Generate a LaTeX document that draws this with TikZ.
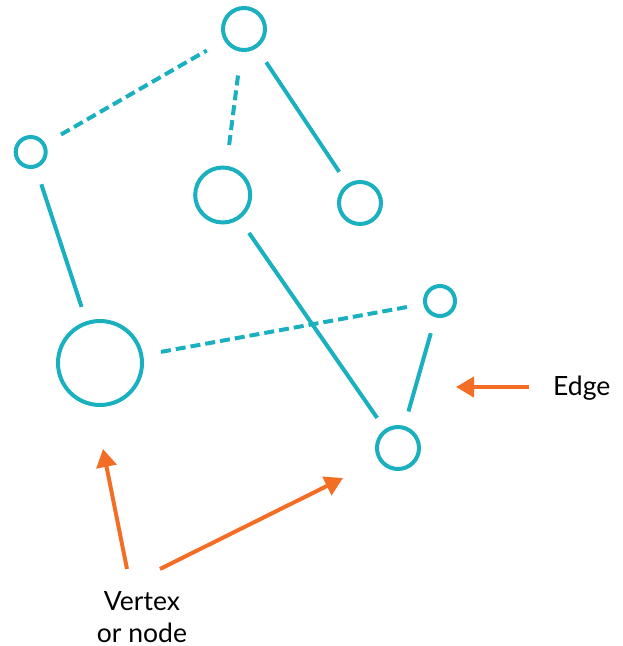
\documentclass[tikz,border=0pt]{standalone}
\usepackage{fontspec}
\setmainfont{Lato}
\usetikzlibrary{arrows.meta}
\definecolor{teal1}{RGB}{26,176,192}
\definecolor{orange1}{RGB}{243,110,36}
\tikzset{
  vertex/.style={circle,draw=teal1,line width=4pt,inner sep=0pt,minimum size=#1},
  edgeline/.style={draw=teal1,line width=4pt},
  dashedge/.style={draw=teal1,line width=4pt,dash pattern=on 10pt off 5pt},
  pointer/.style={draw=orange1,line width=4pt,-{Triangle[length=18pt,width=20pt]}},
  label/.style={font=\fontsize{26.5}{32}\selectfont,inner sep=0pt,text=black}
}
\begin{document}
\begin{tikzpicture}[x=1pt,y=-1pt]
\useasboundingbox (0,0) rectangle (622,646);
\node[vertex=42pt] (A) at (244,29) {};
\node[vertex=30pt] (B) at (30.7,152) {};
\node[vertex=55pt] (C) at (222.7,195) {};
\node[vertex=42pt] (D) at (360,203) {};
\node[vertex=84pt] (E) at (100,363) {};
\node[vertex=30pt] (F) at (440,301) {};
\node[vertex=42pt] (G) at (398,448) {};

\draw[dashedge,shorten <=18pt,shorten >=20pt] (B) -- (A);
\draw[dashedge,shorten <=21pt,shorten >=22pt] (C) -- (A);
\draw[edgeline,shorten <=17pt,shorten >=14.4pt] (A) -- (D);
\draw[edgeline,shorten <=17pt,shorten >=15pt] (B) -- (E);
\draw[edgeline,shorten <=16.7pt,shorten >=13.6pt] (C) -- (G);
\draw[dashedge,shorten <=18pt,shorten >=15pt] (E) -- (F);
\draw[edgeline,shorten <=16.5pt,shorten >=15pt] (F) -- (G);

\node[label,anchor=base west] (edgelbl) at (553,395) {Edge};
\node[label,align=center] (vlbl) at (142,617.5) {Vertex\\or node};

\coordinate (et) at (529,387);
\coordinate (eh) at (456,387);
\coordinate (v1t) at (127,569);
\coordinate (v1h) at (103,449);
\coordinate (v2t) at (160,569);
\coordinate (v2h) at (343,478);
\draw[pointer] (et) -- (eh);
\draw[pointer] (v1t) -- (v1h);
\draw[pointer] (v2t) -- (v2h);
\end{tikzpicture}
\end{document}
